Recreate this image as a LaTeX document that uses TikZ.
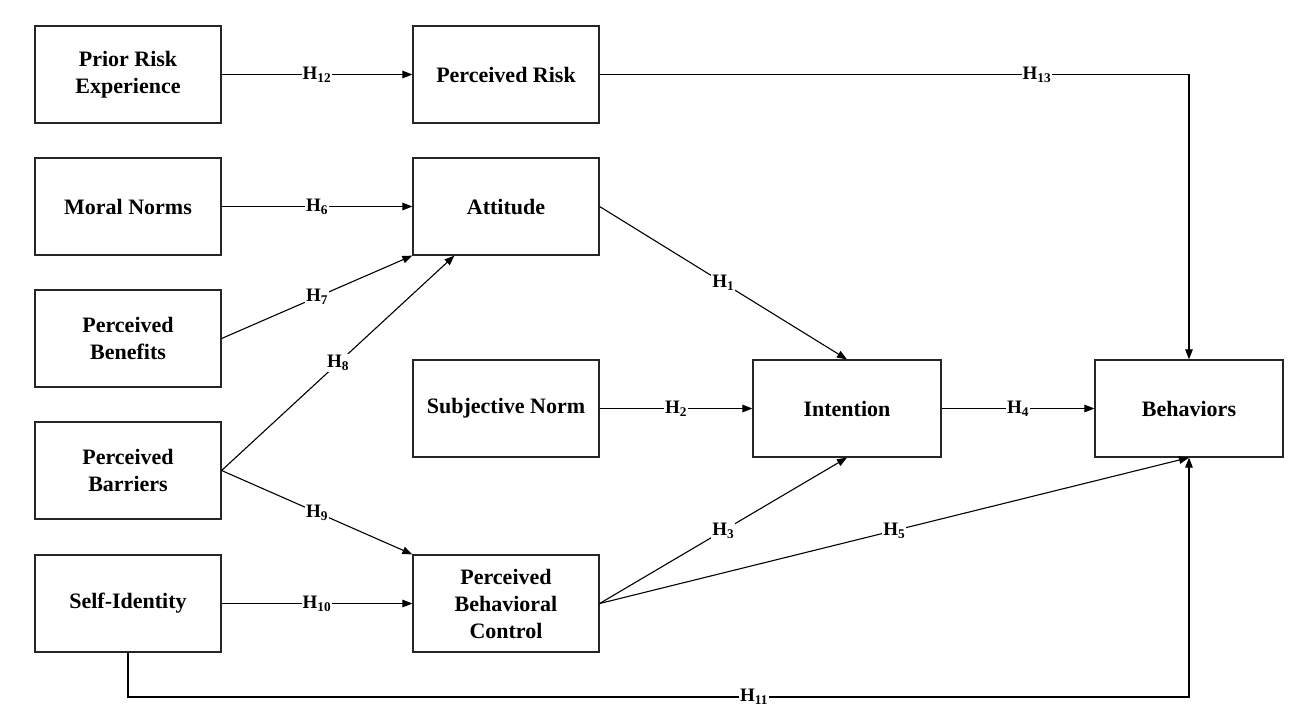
\documentclass[tikz,border=0pt]{standalone}
\usepackage{fontspec}
\setmainfont{Liberation Serif}
\usetikzlibrary{arrows.meta,calc}
\begin{document}
\begin{tikzpicture}[x=1pt,y=-1pt,
  box/.style={draw=black!85,line width=1.2pt,minimum width=186pt,minimum height=97pt,inner sep=0pt,align=center,font=\fontsize{22}{27}\selectfont\bfseries},
  arr/.style={line width=1.1pt,-{Triangle[length=10pt,width=7.5pt]}},
  lbl/.style={fill=white,inner sep=1pt,font=\fontsize{19}{21}\selectfont\bfseries}]
\useasboundingbox (0,0) rectangle (1304,724);
\node[box] (prior) at (128,74.5) {Prior Risk\\Experience};
\node[box] (prisk) at (506,74.5) {Perceived Risk};
\node[box] (moral) at (128,206.5) {Moral Norms};
\node[box] (att) at (506,206.5) {Attitude};
\node[box] (ben) at (128,338.5) {Perceived\\Benefits};
\node[box] (subj) at (506,408.5) {Subjective Norm};
\node[box,minimum width=188pt] (int) at (847,408.5) {Intention};
\node[box,minimum width=188pt] (beh) at (1189,408.5) {Behaviors};
\node[box] (bar) at (128,470.5) {Perceived\\Barriers};
\node[box] (self) at (128,603.5) {Self-Identity};
\node[box] (pbc) at (506,603.5) {Perceived\\Behavioral\\Control};
\coordinate (a8) at ($(att.south west)+(42,0)$);
\coordinate (c11) at (128,697);
\coordinate (d11) at (1189,697);
\draw[arr] (prior.east) -- node[lbl]{H\textsubscript{12}} (prisk.west);
\draw[arr] (prisk.east) -| node[lbl,pos=0.371]{H\textsubscript{13}} (beh.north);
\draw[arr] (moral.east) -- node[lbl]{H\textsubscript{6}} (att.west);
\draw[arr] (ben.east) -- node[lbl]{H\textsubscript{7}} (att.south west);
\draw[arr] (bar.east) -- node[lbl]{H\textsubscript{8}} (a8);
\draw[arr] (bar.east) -- node[lbl]{H\textsubscript{9}} (pbc.north west);
\draw[arr] (self.east) -- node[lbl]{H\textsubscript{10}} (pbc.west);
\draw[arr] (self.south) -- (c11) -- node[lbl,pos=0.59]{H\textsubscript{11}} (d11) -- (beh.south);
\draw[arr] (att.east) -- node[lbl]{H\textsubscript{1}} (int.north);
\draw[arr] (subj.east) -- node[lbl]{H\textsubscript{2}} (int.west);
\draw[arr] (pbc.east) -- node[lbl]{H\textsubscript{3}} (int.south);
\draw[arr] (int.east) -- node[lbl]{H\textsubscript{4}} (beh.west);
\draw[arr] (pbc.east) -- node[lbl]{H\textsubscript{5}} (beh.south);
\end{tikzpicture}
\end{document}
